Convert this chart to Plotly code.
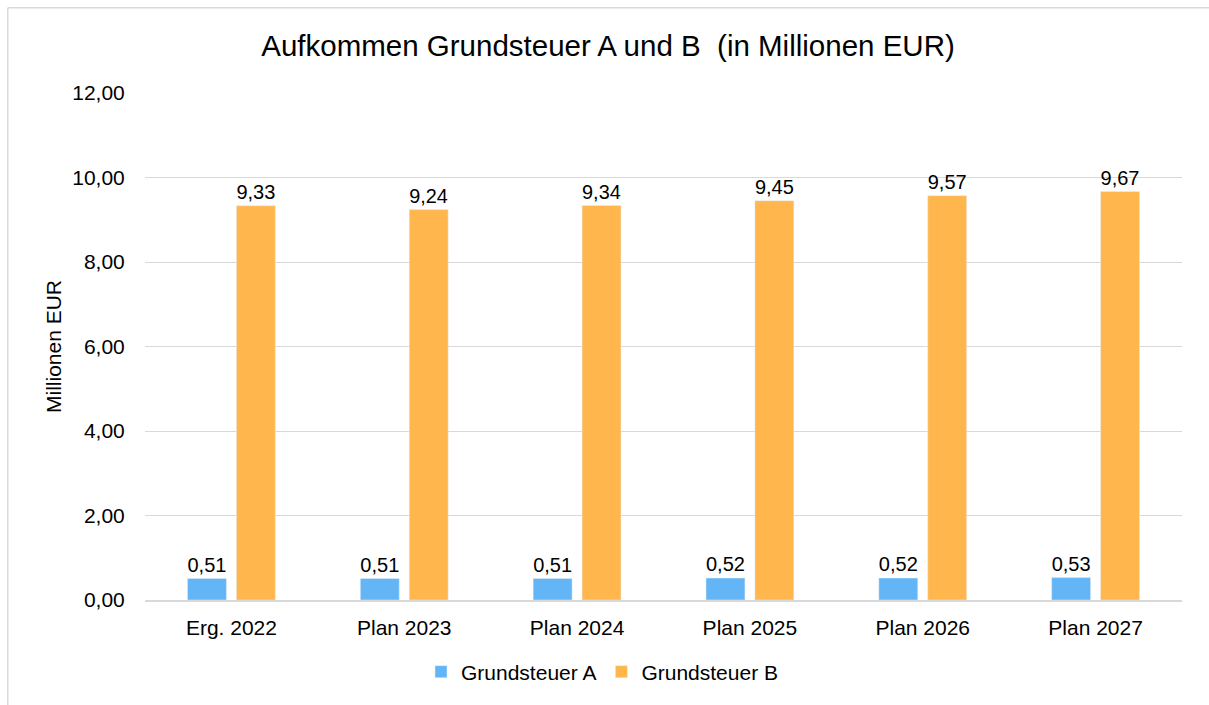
import plotly.graph_objects as go

categories = ["Erg. 2022", "Plan 2023", "Plan 2024", "Plan 2025", "Plan 2026", "Plan 2027"]
grundsteuer_a = [0.51, 0.51, 0.51, 0.52, 0.52, 0.53]
grundsteuer_b = [9.33, 9.24, 9.34, 9.45, 9.57, 9.67]

W, H = 1209, 705
ml, mt = 145, 93
mr = W - 1182
mb = H - 600
pw, ph = W - ml - mr, H - mt - mb


def px_x(x):
    # screen pixel -> paper x
    return (x - ml) / pw


def px_y(y):
    # screen pixel -> paper y
    return (H - mb - y) / ph


font = "Liberation Sans, Arial, sans-serif"
fs = 21

fig = go.Figure()
fig.add_trace(go.Bar(
    x=categories, y=grundsteuer_a, name="Grundsteuer A",
    marker_color="#64B5F6",
    text=[f"{v:.2f}".replace(".", ",") for v in grundsteuer_a],
    textposition="outside", cliponaxis=False,
    textfont=dict(size=fs, color="#000000", family=font),
))
fig.add_trace(go.Bar(
    x=categories, y=grundsteuer_b, name="Grundsteuer B",
    marker_color="#FFB74D",
    text=[f"{v:.2f}".replace(".", ",") for v in grundsteuer_b],
    textposition="outside", cliponaxis=False,
    textfont=dict(size=fs, color="#000000", family=font),
))

fig.update_layout(
    width=W, height=H,
    margin=dict(l=ml, r=mr, t=mt, b=mb),
    paper_bgcolor="white", plot_bgcolor="white",
    separators=",.",
    font=dict(family=font, size=fs, color="#000000"),
    title=dict(text="Aufkommen Grundsteuer A und B \u00a0(in Millionen EUR)",
               x=608 / W, xanchor="center", y=1 - 46 / H, yanchor="middle",
               font=dict(size=29.5, color="#000000", family=font)),
    barmode="group", bargap=0.434, bargroupgap=0.204,
    showlegend=True,
    legend=dict(orientation="h", x=px_x(602), xanchor="center",
                y=px_y(672), yanchor="middle",
                font=dict(size=fs, color="#000000"),
                itemwidth=30, traceorder="normal"),
)
fig.update_yaxes(range=[0, 12], dtick=2, tickformat=".2f",
                 showgrid=True, gridcolor="#D9D9D9", gridwidth=1,
                 zeroline=False, showline=False,
                 ticks="outside", ticklen=15, tickcolor="rgba(0,0,0,0)",
                 tickfont=dict(size=fs),
                 title=dict(text="Millionen EUR", font=dict(size=fs), standoff=4))
fig.update_xaxes(showline=True, linecolor="#D9D9D9", linewidth=1.5,
                 ticks="", tickfont=dict(size=fs), ticklabelstandoff=8)

# Chart frame (only the left and top edges fall inside the window)
frame = dict(color="#D9D9D9", width=1.5)
fig.add_shape(type="line", xref="paper", yref="paper",
              x0=px_x(7.75), x1=px_x(7.75), y0=px_y(730), y1=px_y(7.75),
              line=frame, layer="below")
fig.add_shape(type="line", xref="paper", yref="paper",
              x0=px_x(7.75), x1=px_x(1230), y0=px_y(7.75), y1=px_y(7.75),
              line=frame, layer="below")

# drop the default page margin so the figure fills the window exactly
fig.write_html("out.html", config={"displayModeBar": False},
               post_script="document.body.style.margin='0';document.body.style.overflow='hidden';")
